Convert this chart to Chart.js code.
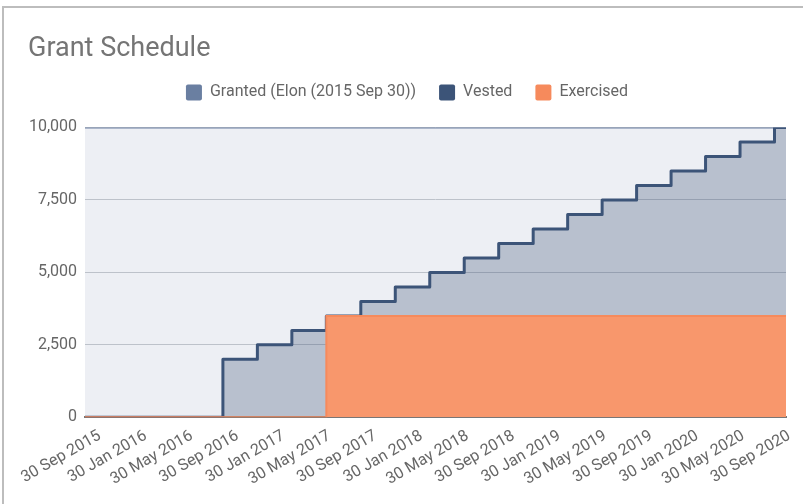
<!DOCTYPE html>
<html>
<head>
<meta charset="utf-8">
<script src="https://cdn.jsdelivr.net/npm/chart.js@4.4.0/dist/chart.umd.min.js"></script>
<style>
  body { margin: 0; background: #fff; overflow: hidden; }
  .card {
    position: absolute; left: 2px; top: 6px;
    width: 820px; height: 520px;
    border: 2px solid #bdbdbd; box-sizing: border-box;
  }
  .wrap { position: absolute; left: 0; top: 0; width: 799px; height: 496px; }
</style>
</head>
<body>
<div class="card">
  <div class="wrap"><canvas id="grantChart"></canvas></div>
</div>
<script>
// months counted from 30 Sep 2015; each vest lands between two month slots
const tickMonths = [0, 4, 8, 12, 16, 20, 24, 28, 32, 36, 40, 44, 48, 52, 56, 60];
const tickLabels = ['30 Sep 2015', '30 Jan 2016', '30 May 2016', '30 Sep 2016', '30 Jan 2017',
  '30 May 2017', '30 Sep 2017', '30 Jan 2018', '30 May 2018', '30 Sep 2018', '30 Jan 2019',
  '30 May 2019', '30 Sep 2019', '30 Jan 2020', '30 May 2020', '30 Sep 2020'];

const grantedMonths = [-0.5, 60.5];
const grantedValues = [10000, 10000];

const vestedMonths = [-0.5, 11.5, 14.5, 17.5, 20.5, 23.5, 26.5, 29.5, 32.5, 35.5,
  38.5, 41.5, 44.5, 47.5, 50.5, 53.5, 56.5, 59.5, 60.5];
const vestedValues = [0, 2000, 2500, 3000, 3500, 4000, 4500, 5000, 5500, 6000,
  6500, 7000, 7500, 8000, 8500, 9000, 9500, 10000, 10000];

const exercisedMonths = [-0.5, 20.5, 60.5];
const exercisedValues = [0, 3500, 3500];

const pts = (xs, ys) => xs.map((x, i) => ({x: x, y: ys[i]}));

// extra room under the legend, legend itself sits a bit higher
const legendGap = {
  id: 'legendGap',
  beforeInit(chart) {
    const lg = chart.legend;
    const fit = lg.fit;
    lg.fit = function() {
      fit.call(lg);
      this.height += 13;
    };
    const draw = lg.draw;
    lg.draw = function() {
      const c = this.ctx;
      c.save();
      c.translate(0, -4);
      draw.call(lg);
      c.restore();
    };
  }
};

const ctx = document.getElementById('grantChart').getContext('2d');
new Chart(ctx, {
  type: 'line',
  data: {
    datasets: [{
      label: 'Granted (Elon (2015 Sep 30))',
      data: pts(grantedMonths, grantedValues),
      borderColor: '#6a7fa1',
      backgroundColor: 'rgba(106,127,161,0.12)',
      borderWidth: 2,
      fill: 'origin',
      order: 3
    }, {
      label: 'Vested',
      data: pts(vestedMonths, vestedValues),
      borderColor: '#3c5478',
      backgroundColor: 'rgba(60,84,120,0.3)',
      borderWidth: 3,
      stepped: 'before',
      borderJoinStyle: 'round',
      fill: 'origin',
      order: 2
    }, {
      label: 'Exercised',
      data: pts(exercisedMonths, exercisedValues),
      borderColor: '#f68a5c',
      backgroundColor: '#f8976c',
      borderWidth: 2,
      stepped: 'before',
      fill: 'origin',
      order: 1
    }]
  },
  options: {
    responsive: true,
    maintainAspectRatio: false,
    animation: false,
    layout: { padding: { left: 24, right: 17, top: 0, bottom: 14 } },
    elements: { point: { radius: 0, hoverRadius: 0 }, line: { tension: 0 } },
    scales: {
      x: {
        type: 'linear',
        min: -0.5,
        max: 60.5,
        afterBuildTicks: (scale) => { scale.ticks = tickMonths.map(v => ({value: v})); },
        grid: { display: false },
        border: { display: true, color: '#777', width: 2 },
        ticks: {
          autoSkip: false,
          minRotation: 30,
          maxRotation: 30,
          labelOffset: 9,
          padding: 1,
          color: '#666',
          font: { family: 'Roboto', size: 16 },
          callback: (v, i) => tickLabels[i]
        }
      },
      y: {
        min: 0,
        max: 10000,
        afterFit: (scale) => { scale.width = 57; },
        grid: { color: '#c9ccd0', drawTicks: false },
        border: { display: false },
        ticks: {
          stepSize: 2500,
          padding: 8,
          color: '#666',
          font: { family: 'Roboto', size: 16 },
          callback: (v) => v.toLocaleString('en-US')
        }
      }
    },
    plugins: {
      title: {
        display: true,
        text: 'Grant Schedule',
        align: 'start',
        color: '#757575',
        font: { family: 'Roboto', size: 27, weight: 'normal' },
        padding: { top: 25, bottom: 0 }
      },
      legend: {
        labels: {
          color: '#666',
          font: { family: 'Roboto', size: 16 },
          boxWidth: 16,
          boxHeight: 16,
          padding: 23,
          useBorderRadius: true,
          borderRadius: 2,
          sort: (a, b) => a.datasetIndex - b.datasetIndex,
          generateLabels: (chart) => chart.data.datasets.map((ds, i) => ({
            text: ds.label,
            fillStyle: ds.borderColor,
            strokeStyle: ds.borderColor,
            lineWidth: 0,
            fontColor: '#666',
            datasetIndex: i,
            hidden: !chart.isDatasetVisible(i),
            borderRadius: 2
          }))
        }
      },
      tooltip: { enabled: false }
    }
  },
  plugins: [legendGap]
});
</script>
</body>
</html>
